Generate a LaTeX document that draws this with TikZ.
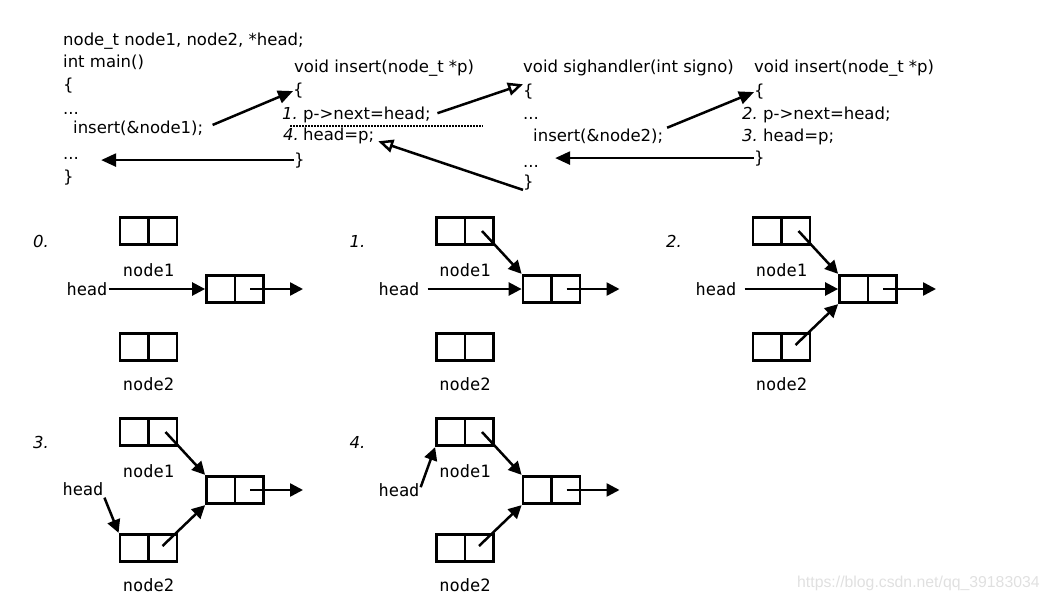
\documentclass[tikz,border=0pt]{standalone}
\usepackage{fontspec}
\setmainfont{DejaVu Sans}
\newfontfamily\labelfont{DejaVu Sans Mono}
\newfontfamily\markfont{Liberation Sans}
\usetikzlibrary{arrows.meta}

\begin{document}
\begin{tikzpicture}[
	x=1pt, y=-1pt,
	codeline/.style={ anchor=base west, inner sep=0pt, font=\fontsize{16.5}{20}\selectfont },
	stepnum/.style={ anchor=base west, inner sep=0pt, font=\fontsize{16.5}{20}\selectfont\itshape },
	boxlabel/.style={ inner sep=0pt, font=\labelfont\fontsize{17}{20}\selectfont },
	twocell/.style={ draw, line width=2.8pt, minimum width=57pt, minimum height=27.5pt, inner sep=0pt,
		path picture={ \draw[line width=2.8pt] (path picture bounding box.north) -- (path picture bounding box.south); } },
	callarrow/.style={ line width=2.5pt, -{Triangle[length=15pt,width=13pt]} },
	sigarrow/.style={ line width=2.5pt, -{Triangle[open,length=15pt,width=13pt]} },
	link/.style={ line width=2.5pt, -{Triangle[length=13pt,width=13pt]} },
	dotsep/.style={ line width=1.8pt, dash pattern=on 1.6pt off 1.4pt }
]
	\useasboundingbox (0,0) rectangle (1049,599);

	% main()
	\node[codeline] (decl) at (63,46) {node\_t node1, node2, *head;};
	\node[codeline] (mainhead) at (63,68) {int main()};
	\node[codeline] (mainopen) at (63,91) {\{};
	\node[codeline] (maindots1) at (63,114) {...};
	\node[codeline] (maincall) at (73,134) {insert(\&node1);};
	\node[codeline] (maindots2) at (63,160) {...};
	\node[codeline] (mainclose) at (63,182) {\}};

	% first insert()
	\node[codeline] (insahead) at (294,73) {void insert(node\_t *p)};
	\node[codeline] (insaopen) at (293,96) {\{};
	\node[stepnum] (insanum1) at (282,120) {1.};
	\node[codeline] (insanext) at (303,120) {p->next=head;};
	\node[stepnum] (insanum4) at (283,140) {4.};
	\node[codeline] (insaset) at (303,140) {head=p;};
	\node[codeline] (insaclose) at (294,165) {\}};
	\coordinate (cutl) at (290,126);
	\coordinate (cutr) at (483,126);
	\draw[dotsep] (cutl) -- (cutr);

	% sighandler()
	\node[codeline] (sighead) at (523,73) {void sighandler(int signo)};
	\node[codeline] (sigopen) at (523,97) {\{};
	\node[codeline] (sigdots1) at (523,120) {...};
	\node[codeline] (sigcall) at (533,142) {insert(\&node2);};
	\node[codeline] (sigdots2) at (523,167) {...};
	\node[codeline] (sigclose) at (523,187) {\}};

	% second insert()
	\node[codeline] (insbhead) at (754,73) {void insert(node\_t *p)};
	\node[codeline] (insbopen) at (754,97) {\{};
	\node[stepnum] (insbnum2) at (742,120) {2.};
	\node[codeline] (insbnext) at (763,120) {p->next=head;};
	\node[stepnum] (insbnum3) at (742,142) {3.};
	\node[codeline] (insbset) at (763,142) {head=p;};
	\node[codeline] (insbclose) at (754,163) {\}};

	\draw[callarrow, shorten <=10pt] (maincall.east) -- (insaopen.west);
	\draw[callarrow, shorten >=22pt] (insaclose.west) -- (insaclose.west -| maindots2.east);
	\draw[sigarrow, shorten <=7pt] (insanext.east) -- (sigopen.north west);
	\draw[sigarrow, shorten >=4pt] (sigclose.south west) -- (insaset.base east);
	\draw[callarrow, shorten <=4pt] (sigcall.north east) -- (insbopen.west);
	\draw[callarrow, shorten >=16pt] (insbclose.west) -- (insbclose.west -| sigdots2.east);

	% list states
	\foreach \i/\px/\py in {0/0/0, 1/316.5/0, 2/633/0, 3/0/201, 4/316.5/201} {
		\begin{scope}[shift={(\px,\py)}]
			\node[stepnum] (s\i) at (33,247) {\i.};
			\node[twocell] (a\i) at (148.5,231) {};
			\node[boxlabel] (la\i) at (148.5,270) {node1};
			\node[twocell] (l\i) at (235,289) {};
			\node[twocell] (b\i) at (148.5,347) {};
			\node[boxlabel] (lb\i) at (148.5,384) {node2};
			\coordinate (t\i) at (303,289);
			\draw[link] ([xshift=15pt]l\i.center) -- (t\i);
		\end{scope}
	}
	\node[boxlabel] (h0) at (87,289) {head};
	\node[boxlabel] (h1) at (399,289) {head};
	\node[boxlabel] (h2) at (716,289) {head};
	\node[boxlabel] (h3) at (83,489) {head};
	\node[boxlabel] (h4) at (399,490) {head};

	\draw[link, shorten <=1pt] (h0.east) -- (l0.west);
	\draw[link, shorten <=8pt] (h1.east) -- (l1.west);
	\draw[link, shorten <=8pt] (h2.east) -- (l2.west);
	\draw[link] ([xshift=17pt]a1.center) -- (l1.north west);
	\draw[link] ([xshift=17pt]a2.center) -- (l2.north west);
	\draw[link] ([xshift=14pt,yshift=2pt]b2.center) -- (l2.south west);
	\draw[link] ([xshift=17pt]a3.center) -- (l3.north west);
	\draw[link] ([xshift=14pt,yshift=2pt]b3.center) -- (l3.south west);
	\draw[link, shorten <=2pt] (h3.south east) -- (b3.north west);
	\draw[link] ([xshift=17pt]a4.center) -- (l4.north west);
	\draw[link] ([xshift=14pt,yshift=2pt]b4.center) -- (l4.south west);
	\draw[link, shorten <=3pt] (h4.east) -- (a4.south west);

	\node[anchor=base west, inner sep=0pt, text=black!12, font=\markfont\fontsize{15.8}{18}\selectfont] (mark) at (797,587) {https://blog.csdn.net/qq\_39183034};
\end{tikzpicture}
\end{document}
